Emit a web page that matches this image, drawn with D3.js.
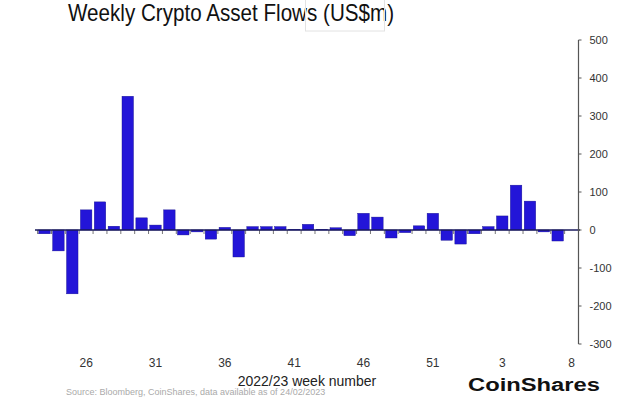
<!DOCTYPE html>
<html>
<head>
<meta charset="utf-8">
<script src="https://cdn.jsdelivr.net/npm/d3@7"></script>
<style>
  body { margin: 0; background: #fff; overflow: hidden; }
  svg { display: block; font-family: "Liberation Sans", Arial, sans-serif; }
</style>
</head>
<body>
<div id="chart"></div>
<script>
// weekly flows, US$m (week 8 not reported yet)
var weeks = ["23","24","25","26","27","28","29","30","31","32","33","34","35","36","37","38","39","40",
  "41","42","43","44","45","46","47","48","49","50","51","52","53","1","2","3","4","5","6","7","8"];
var flows = [-10, -55, -168, 53, 74, 10, 352, 32, 13, 53, -13, -5, -24, 7, -71, 9, 9, 9,
  2, 15, 2, 6, -15, 44, 34, -21, -7, 11, 44, -27, -37, -10, 9, 37, 118, 76, -5, -29];
var yTicks = [500, 400, 300, 200, 100, 0, -100, -200, -300];
var xLabels = ["26", "31", "36", "41", "46", "51", "3", "8"];

const width = 640;
const height = 397;

var data = flows.map(function(v, i) {
  return { week: weeks[i], value: v };
});

const svg = d3.select("#chart").append("svg")
  .attr("width", width)
  .attr("height", height);

const pad = 0.17;
const x = d3.scaleBand()
  .domain(weeks)
  .range([37.6, 578.5])
  .paddingInner(pad)
  .paddingOuter(pad / 2);

const y = d3.scaleLinear()
  .domain([-300, 500])
  .range([344, 40]);

// title
svg.append("text")
  .attr("x", 68)
  .attr("y", 21)
  .attr("textLength", 326)
  .attr("lengthAdjust", "spacingAndGlyphs")
  .style("font-size", "24px")
  .style("fill", "#111")
  .text("Weekly Crypto Asset Flows (US$m)");

// faint box around "Flows" from the source image
svg.append("rect")
  .attr("x", 305.5)
  .attr("y", -2)
  .attr("width", 79)
  .attr("height", 33)
  .style("fill", "none")
  .style("stroke", "#e2e2e2")

// bars
svg.selectAll("rect.bar")
  .data(data)
  .enter()
  .append("rect")
  .attr("class", "bar")
  .attr("x", function(d) { return x(d.week) })
  .attr("width", x.bandwidth())
  .attr("y", function(d) { return y(Math.max(0, d.value)) })
  .attr("height", function(d) { return Math.abs(y(d.value) - y(0)) })
  .style("fill", "#2315d8")
  .style("stroke", "#14108a")
  .style("stroke-width", 0.4);

// zero line with category ticks
const step = x.step();
const edges = weeks.map(function(w) { return x(w) - step * pad / 2 });
edges.push(x.range()[1]);

svg.selectAll("line.xtick")
  .data(edges)
  .enter()
  .append("line")
  .attr("class", "xtick")
  .attr("x1", function(d) { return d })
  .attr("x2", function(d) { return d })
  .attr("y1", y(0))
  .attr("y2", y(0) + 4)
  .style("stroke", "#777")
  .style("stroke-width", 1);

svg.append("line")
  .attr("x1", 35)
  .attr("x2", 580)
  .attr("y1", y(0))
  .attr("y2", y(0))
  .style("stroke", "#1a1a5c")
  .style("stroke-width", 1.6);

// y axis on the right
const yAxis = d3.axisRight(y)
  .tickValues(yTicks)
  .tickSize(0)
  .tickPadding(11)
  .tickFormat(function(d) { return String(d) });

const gy = svg.append("g")
  .attr("transform", "translate(578.5,0)")
  .call(yAxis);
gy.select(".domain").remove();
gy.selectAll("text")
  .style("font-size", "11px")
  .style("fill", "#333")
  .style("font-family", "'Liberation Sans', Arial, sans-serif");

svg.append("line")
  .attr("x1", 578.5)
  .attr("x2", 578.5)
  .attr("y1", y(500))
  .attr("y2", y(-300))
  .style("stroke", "#555")
  .style("stroke-width", 1.2);

svg.selectAll("line.ytick")
  .data(yTicks)
  .enter()
  .append("line")
  .attr("class", "ytick")
  .attr("x1", 578.5)
  .attr("x2", 581.5)
  .attr("y1", function(d) { return y(d) })
  .attr("y2", function(d) { return y(d) })
  .style("stroke", "#555");

// x labels
svg.selectAll("text.xlab")
  .data(xLabels)
  .enter()
  .append("text")
  .attr("class", "xlab")
  .attr("x", function(d) { return x(d) + x.bandwidth() / 2 })
  .attr("y", 367)
  .attr("text-anchor", "middle")
  .style("font-size", "12px")
  .style("fill", "#333")
  .text(function(d) { return d });

svg.append("text")
  .attr("x", 307)
  .attr("y", 386)
  .attr("text-anchor", "middle")
  .style("font-size", "14px")
  .style("fill", "#222")
  .text("2022/23 week number");

// source line and logo at the bottom edge
svg.append("text")
  .attr("x", 66)
  .attr("y", 395)
  .style("font-size", "9px")
  .style("fill", "#aaa")
  .text("Source: Bloomberg, CoinShares, data available as of 24/02/2023");

svg.append("text")
  .attr("x", 468)
  .attr("y", 391)
  .attr("textLength", 132)
  .attr("lengthAdjust", "spacingAndGlyphs")
  .style("font-size", "18px")
  .style("font-weight", "bold")
  .style("fill", "#111")
  .text("CoinShares");
</script>
</body>
</html>
